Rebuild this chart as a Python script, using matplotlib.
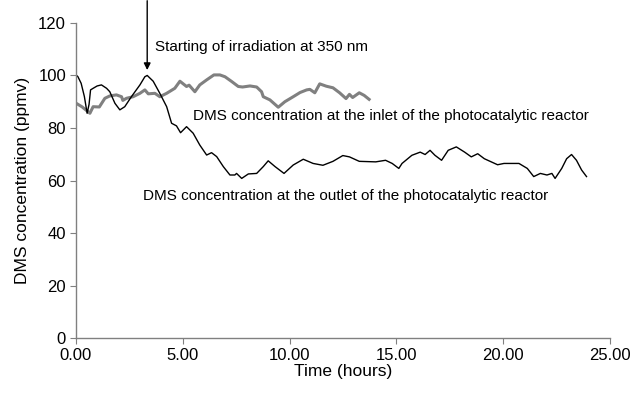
import matplotlib.pyplot as plt
from matplotlib.ticker import FormatStrFormatter

plt.rcParams['font.family'] = ['Liberation Sans', 'DejaVu Sans']

# outlet of the photocatalytic reactor (black line)
t_out = [0.0, 0.1, 0.25, 0.4, 0.53, 0.62, 0.69, 0.81, 1.0, 1.2, 1.44, 1.59, 1.83, 2.06,
         2.29, 2.6, 3.0, 3.23, 3.34, 3.62, 3.93, 4.25, 4.48, 4.71, 4.9, 5.18, 5.49, 5.8,
         6.12, 6.35, 6.59, 6.9, 7.21, 7.44, 7.52, 7.76, 8.07, 8.46, 8.77, 9.0, 9.32, 9.74,
         10.17, 10.64, 11.1, 11.56, 12.03, 12.49, 12.8, 13.26, 14.03, 14.49, 14.8, 15.11,
         15.26, 15.72, 16.11, 16.34, 16.57, 16.8, 17.11, 17.42, 17.8, 18.19, 18.5, 18.8,
         19.11, 19.73, 20.03, 20.73, 21.12, 21.42, 21.73, 22.04, 22.27, 22.42, 22.73,
         22.96, 23.19, 23.42, 23.66, 23.89]
v_out = [100.3, 99.5, 97.0, 92.0, 85.6, 89.0, 94.5, 95.1, 96.0, 96.4, 95.1, 93.8, 89.4, 86.9,
         88.1, 91.9, 96.4, 99.5, 100.0, 97.8, 93.2, 88.1, 81.8, 80.8, 78.2, 80.5, 78.0, 73.5,
         69.7, 70.6, 69.1, 65.3, 62.1, 62.1, 62.7, 60.8, 62.5, 62.7, 65.3, 67.5, 65.3, 62.7,
         65.9, 68.1, 66.5, 65.8, 67.3, 69.5, 69.0, 67.3, 67.1, 67.7, 66.5, 64.6,
         66.5, 69.6, 70.8, 69.9, 71.5, 69.6, 67.7, 71.5, 72.8, 70.8, 69.0, 70.2,
         68.3, 66.0, 66.5, 66.5, 64.6, 61.5, 62.7, 62.1, 62.7, 60.8, 64.6,
         68.3, 69.9, 67.7, 64.0, 61.5]

# inlet of the photocatalytic reactor (grey line)
t_in = [0.0, 0.3, 0.66, 0.81, 1.1, 1.36, 1.59, 1.9, 2.14, 2.2, 2.37, 2.68, 3.0, 3.23, 3.39,
        3.7, 3.93, 4.25, 4.63, 4.87, 5.18, 5.3, 5.57, 5.8, 6.12, 6.46, 6.74, 6.98, 7.29,
        7.6, 7.8, 8.15, 8.46, 8.69, 8.77, 9.08, 9.47, 9.78, 10.17, 10.49, 10.8, 10.95,
        11.18, 11.41, 11.72, 12.03, 12.34, 12.64, 12.8, 12.95, 13.26, 13.49, 13.72]
v_in = [89.5, 88.0, 85.6, 88.1, 88.0, 91.3, 92.2, 92.6, 91.9, 90.5, 91.3, 91.9, 93.2, 94.5, 93.0,
        93.2, 91.9, 93.2, 95.1, 97.8, 95.8, 96.3, 93.8, 96.4, 98.3, 100.2, 100.2, 99.5, 97.7,
        95.8, 95.6, 96.0, 95.6, 93.8, 91.9, 90.7, 87.9, 90.0, 91.9, 93.5, 94.5, 94.7,
        93.4, 96.8, 95.9, 95.3, 93.4, 91.2, 92.8, 91.6, 93.4, 92.4, 90.9]

x_ticks = [0, 5, 10, 15, 20, 25]
y_ticks = [0, 20, 40, 60, 80, 100, 120]

fig = plt.figure(figsize=(6.37, 3.95), dpi=100)
ax = fig.add_axes([0.119, 0.144, 0.839, 0.798])

ax.plot(t_in, v_in, color='#808080', lw=2.2)
ax.plot(t_out, v_out, color='black', lw=1.0)

ax.set_xlim(0, 25)
ax.set_ylim(0, 120)
ax.set_xticks(x_ticks)
ax.set_yticks(y_ticks)
ax.xaxis.set_major_formatter(FormatStrFormatter('%.2f'))

for s in ['top', 'right']:
    ax.spines[s].set_visible(False)
for s in ['left', 'bottom']:
    ax.spines[s].set_color('#808080')
    ax.spines[s].set_linewidth(1.0)
ax.tick_params(direction='out', length=4, color='#808080', labelsize=12, pad=3)

ax.set_xlabel('Time (hours)', fontsize=12.5, labelpad=1)
ax.set_ylabel('DMS concentration (ppmv)', fontsize=12.5, labelpad=6)

ax.annotate('', xy=(3.34, 101), xytext=(3.34, 129.5), annotation_clip=False,
            arrowprops=dict(arrowstyle='-|>', color='black', lw=1, mutation_scale=10))
ax.text(3.7, 110.9, 'Starting of irradiation at 350 nm', fontsize=11, va='center')
ax.text(5.48, 84.6, 'DMS concentration at the inlet of the photocatalytic reactor',
        fontsize=11, va='center')
ax.text(3.14, 54.1, 'DMS concentration at the outlet of the photocatalytic reactor',
        fontsize=11, va='center')

fig.savefig('out.png', dpi=100)
